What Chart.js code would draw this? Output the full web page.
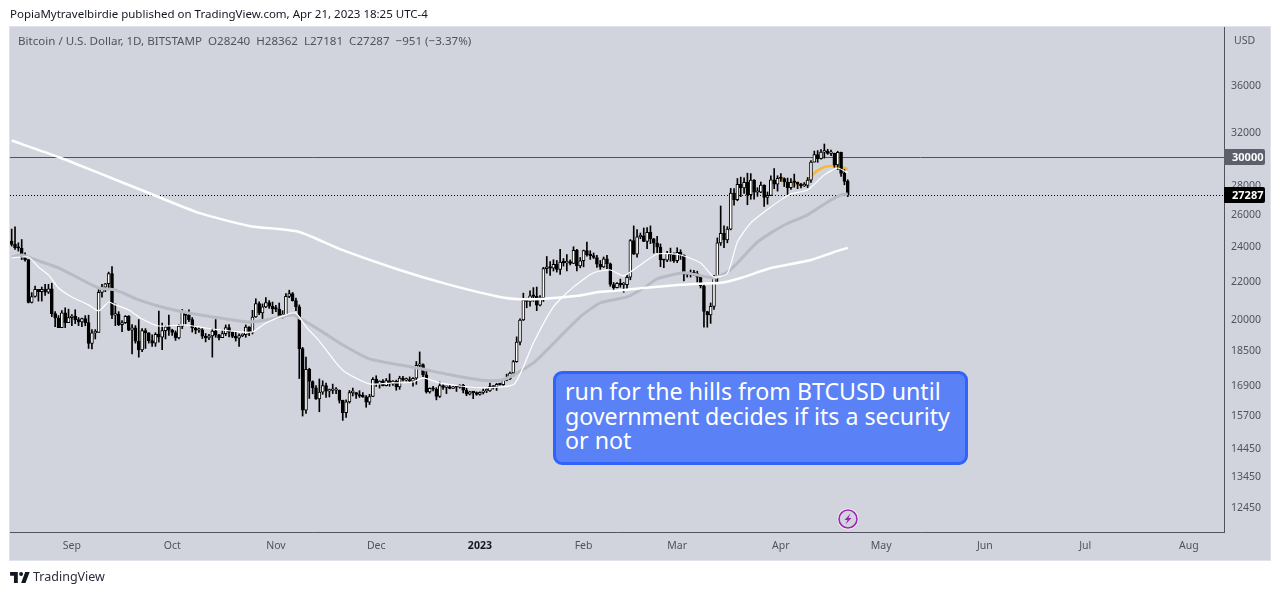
<!DOCTYPE html>
<html><head><meta charset="utf-8">
<script src="https://cdn.jsdelivr.net/npm/chart.js@4"></script>
<style>
html,body{margin:0;padding:0;background:#fff;width:1280px;height:595px;overflow:hidden}
body{position:relative;font-family:"Noto Sans",sans-serif}
#panel{position:absolute;left:9px;top:26px;width:1260px;height:533px;background:#d1d4dc;border:1px solid #e0e3eb;box-sizing:content-box}
canvas{position:absolute;left:0;top:0}
.t{position:absolute;white-space:pre;line-height:1}
#note{position:absolute;left:553px;top:371px;width:415px;height:94px;box-sizing:border-box;background:#5a81f6;border:3px solid #2f63fb;border-radius:9px}
#noteText{position:absolute;left:565px;top:379px;color:#fff;font-size:23.2px;line-height:24.7px;white-space:pre}
svg{position:absolute}
</style></head><body>
<div id="panel"></div>
<canvas id="c" width="1280" height="595"></canvas>
<div class="t" style="left:10px;top:8px;font-size:11.5px;color:#131722">PopiaMytravelbirdie published on TradingView.com, Apr 21, 2023 18:25 UTC-4</div>
<div class="t" style="left:18px;top:35px;font-size:11.58px;color:#50535e">Bitcoin / U.S. Dollar, 1D, BITSTAMP  O28240  H28362  L27181  C27287  −951 (−3.37%)</div>
<div class="t" style="left:1234px;top:35px;font-size:10.5px;color:#50535e">USD</div>
<div id="note"></div>
<div id="noteText">run for the hills from BTCUSD until
government decides if its a security
or not</div>
<svg style="left:837px;top:508px" width="22" height="22" viewBox="0 0 22 22"><circle cx="11" cy="11" r="10.5" fill="#fff"/><circle cx="11" cy="11" r="9" fill="#d1d4dc" stroke="#9c27b0" stroke-width="1.6"/><path d="M13.5 5.5L7.5 12h3l-2 4.5 6-6.5h-3z" fill="#9c27b0"/></svg>
<svg style="left:10px;top:572px" width="20" height="11" viewBox="0 0 36 20"><path d="M14 20H7V7H0V0h14zM28 20h-8l7.5-20h8z" fill="#131722"/><circle cx="20" cy="3.6" r="3.6" fill="#131722"/></svg>
<div class="t" style="left:33px;top:571px;font-size:12.5px;color:#2a2e39">TradingView</div>
<script>
const opens=[24310,24100,23900,23870,23340,23200,20830,21140,21520,21400,21530,21370,21560,20250,20030,19550,20290,19800,
20050,20130,19950,19830,20000,19800,18790,19290,19320,21360,21650,21830,22400,20170,20230,19700,19800,20110,19420,19540,18890,18480,19400,19290,18920,18800,19220,19080,19400,19590,
19420,19310,19050,19620,20340,20160,19950,19530,19420,19440,19130,19050,19150,19380,19180,19060,19260,19550,19330,19120,19040,19160,19200,19570,19330,20080,20770,20290,20600,20820,20630,
20490,20480,20150,20200,21150,21300,20920,20600,18540,15880,17600,17070,16800,16340,16620,16900,16660,16690,16700,16700,16280,15780,16220,16600,16600,16520,16460,16430,16210,16440,
17160,16980,17090,16890,17110,16970,17090,16840,17220,17130,17130,17090,17210,17780,17810,17360,16630,16780,16740,16440,16900,16820,16830,16780,16840,16830,16920,16700,16540,16630,16600,
16530,16610,16670,16670,16850,16830,16950,16940,17120,17190,17440,17950,18850,19930,20950,20880,21180,21150,20680,21080,22680,22780,22710,22930,22630,23060,23010,23080,22970,23750,22830,
23130,23730,23490,23430,23320,22930,22770,23240,22960,21790,21620,21860,21780,21780,22190,24330,23520,24570,24630,24280,24840,24440,24180,23940,23190,23160,23560,23490,
23140,23630,23470,22360,22350,22430,22400,22200,21710,20360,20190,20620,22150,24200,24780,24380,25050,27430,26970,28040,27790,28170,27310,28340,27480,27490,27990,27130,27270,28360,28040,
28470,28450,28200,27800,28180,28170,28040,27930,27950,28330,29650,30220,29900,30400,30480,30300,30320,29440,30390,28820,28240];
const highs=[25050,25200,24200,24400,23600,23200,21350,21700,21500,21650,21800,21800,21860,20350,20150,20400,20550,20480,
20200,20450,20050,20030,20150,20170,19450,19450,21550,21800,21850,22480,22800,20750,20350,19900,20150,20150,19700,19650,19950,19500,19500,19300,19200,19300,20380,19780,19640,20180,
19470,19390,19700,20460,20370,20440,20050,19620,19550,19510,19260,19220,19500,19950,19220,19420,19680,19700,19350,19340,19250,19250,19680,19600,20420,21020,20860,20750,21080,20930,20850,
20680,20800,20400,21300,21480,21360,21060,20700,18600,18150,17650,17100,16900,17180,17100,17000,16750,16960,16810,16710,16290,16300,16690,16790,16600,16680,16600,16480,16530,17240,
17320,17100,17150,17200,17400,17110,17130,17300,17300,17220,17270,17240,17950,18390,17850,17530,16800,16870,16810,17050,16930,16870,16950,16860,16860,16930,16950,16780,16650,16640,16630,
16630,16760,16770,17000,16880,16990,16980,17170,17390,17480,18000,19100,19990,21320,21050,21450,21620,21650,21190,22750,23380,23080,23190,23150,23800,23260,23500,23180,23960,23800,23320,
23760,24250,23720,23590,23450,23150,23350,23450,23000,21900,21900,22090,21900,22330,24400,25250,25020,24800,25120,25150,25250,24470,24590,24130,23200,23680,23880,23600,
23900,23780,23480,22420,22600,22580,22530,22240,21800,20370,20800,22300,24500,26550,25250,25200,27750,27730,28450,28550,28500,28830,28800,28370,27800,28200,28000,27500,28650,29170,28650,
28800,28500,28480,28450,28770,28200,28100,28160,28520,29770,30480,30520,30600,31030,30620,30550,30320,30470,30410,29100,28362];
const lows=[24000,23800,23700,23200,23100,20800,20800,21100,20900,20900,21200,21300,20100,19600,19550,19550,19550,19800,
19650,19750,19650,19600,19640,18550,18530,19000,19320,21100,21400,21600,20000,19650,19650,19350,19750,19400,18300,18800,18150,18400,18550,18800,18650,18650,18850,18500,19000,19170,
19170,18930,19000,19500,19730,19840,19330,19250,19320,19020,18860,18970,18150,19080,18950,19060,19160,19100,19060,18900,18650,19110,19080,19160,19240,20060,20200,20000,20550,20520,20250,
20350,20050,20030,20180,21080,20900,20400,17200,15650,15750,16360,16550,16320,15820,16530,16400,16420,16560,16560,16170,15480,15600,16170,16460,16360,16400,16400,16000,16110,16430,
16860,16790,16880,16880,16870,16900,16700,16740,17100,17090,17070,16870,16950,17660,17280,16580,16580,16670,16300,16400,16730,16560,16760,16780,16650,16790,16590,16470,16500,16350,16490,
16490,16540,16600,16650,16750,16690,16910,16910,17100,17150,17310,17920,18720,19900,20550,20630,20880,20400,20650,20880,22420,22300,22540,22480,22350,22820,22550,22890,22970,22550,22720,
22780,23400,23210,23260,22750,22640,22740,22670,21690,21470,21600,21640,21370,21530,22050,23500,23340,24450,24270,23850,24150,23580,23610,22790,22730,23080,23100,23030,
23020,23210,21980,22200,22200,22300,21920,21600,19570,19570,19760,20470,21900,24040,23900,24200,25000,26600,26900,27180,27400,26630,27000,27010,27200,27450,26520,26670,27250,27730,27560,
28250,27880,27280,27680,27830,27730,27780,27880,27800,28170,29650,29630,29860,29950,30230,30130,29270,29100,28600,28000,27181];
const closes=[24100,23900,23870,23340,23200,20830,21140,21520,21400,21530,21370,21560,20250,20030,19550,20290,19800,20050,
20130,19950,19830,20000,19800,18790,19290,19320,21360,21650,21830,22400,20170,20230,19700,19800,20110,19420,19540,18890,18480,19400,19290,18920,18800,19220,19080,19400,19590,19420,
19310,19050,19620,20340,20160,19950,19530,19420,19440,19130,19050,19150,19380,19180,19060,19260,19550,19330,19120,19040,19160,19200,19570,19330,20080,20770,20290,20600,20820,20630,20490,
20480,20150,20200,21150,21300,20920,20600,18540,15880,17600,17070,16800,16340,16620,16900,16660,16690,16700,16700,16280,15780,16220,16600,16600,16520,16460,16430,16210,16440,17160,
16980,17090,16890,17110,16970,17090,16840,17220,17130,17130,17090,17210,17780,17810,17360,16630,16780,16740,16440,16900,16820,16830,16780,16840,16830,16920,16700,16540,16630,16600,16530,
16610,16670,16670,16850,16830,16950,16940,17120,17190,17440,17950,18850,19930,20950,20880,21180,21150,20680,21080,22680,22780,22710,22930,22630,23060,23010,23080,22970,23750,22830,23130,
23730,23490,23430,23320,22930,22770,23240,22960,21790,21620,21860,21780,21780,22190,24330,23520,24570,24630,24280,24840,24440,24180,23940,23190,23160,23560,23490,23140,
23630,23470,22360,22350,22430,22400,22200,21710,20360,20190,20620,22150,24200,24780,24380,25050,27430,26970,28040,27790,28170,27310,28340,27480,27490,27990,27130,27270,28360,28040,28470,
28450,28200,27800,28180,28170,28040,27930,27950,28330,29650,30220,29900,30400,30480,30300,30320,29440,30390,28820,28240,27287];

const ma200Days=[0,14,26,41,56,71,86,98,116,131,146,152,158,170,176,182,188,200,206,212,218,227,239,246,250];
const ma200Vals=[31300,30030,28850,27430,26090,25250,24870,23830,22600,21770,21120,21000,21010,21200,21390,21470,21590,21770,21830,21880,22150,22710,23180,23650,23890];
const ma100Days=[0,3,9,14,20,26,31,38,46,56,66,71,76,84,86,92,99,107,121,131,140,147,156,163,170,176,184,189,193,201,205,210,214,217,223,231,238,244,248,250];
const ma100Vals=[23350,23470,23060,22720,22150,21600,21500,20960,20540,20190,19930,19830,19930,20190,20030,19440,18720,18070,17670,17360,17140,17140,17890,18950,20090,20800,21120,21600,22100,22440,22320,22150,22490,23000,24250,25310,25960,26820,27300,27370];
const ma20Days=[0,5,8,11,14,18,23,26,29,31,35,39,44,52,58,68,72,76,82,85,88,92,97,100,107,114,120,123,128,134,141,150,153,156,162,168,174,179,183,188,193,200,206,210,214,217,221,225,230,233,238,243,247,250];
const ma20Vals=[23300,23350,22770,22320,21600,21120,20700,20390,20850,20700,20440,19980,19630,19680,19530,19340,19340,19780,20190,20280,19590,18900,17890,17450,16970,17010,17050,17230,17010,16880,16800,16930,17710,18810,20600,21660,22440,22600,22270,22890,23530,23470,23000,22210,22400,24250,25440,26150,26960,27370,27640,28710,29210,28850];
const maOrangeDays=[230,232,237,240,243,247,250];
const maOrangeVals=[28490,28130,28060,28850,29290,29360,29140];

const yTicks=[12450,13450,14450,15700,16900,18500,20000,22000,24000,26000,28000,32000,36000];
const monthStart=[18,48,79,109,140,171,199,230,260,291,321,352];
const monthNames=["Sep","Oct","Nov","Dec","2023","Feb","Mar","Apr","May","Jun","Jul","Aug"];
const levelPrice=30000, lastPrice=27287;
const totalSlots=363;

const categories=[];
for(let i=0;i<totalSlots;i++){const d=new Date(Date.UTC(2022,7,14+i));categories.push(d.toISOString().slice(0,10));}
const pts=(days,vals)=>days.map((d,i)=>({x:categories[d],y:vals[i]}));
const bodies=opens.map((o,i)=>[Math.min(o,closes[i]),Math.max(o,closes[i])]);
const wicks=lows.map((l,i)=>[l,highs[i]]);
const bodyFill=opens.map((o,i)=>closes[i]>=o?"#ffffff":"#000000");

const overlay={id:"overlay",
 beforeDatasetsDraw(ch){const {ctx,chartArea:a,scales:{y}}=ch;ctx.save();
  ctx.strokeStyle="#50535e";ctx.lineWidth=1;ctx.beginPath();const yl=Math.round(y.getPixelForValue(levelPrice))+.5;ctx.moveTo(a.left,yl);ctx.lineTo(a.right,yl);ctx.stroke();
  ctx.strokeStyle="#000";ctx.setLineDash([1,2]);ctx.beginPath();const yp=Math.round(y.getPixelForValue(lastPrice))+.5;ctx.moveTo(a.left,yp);ctx.lineTo(a.right,yp);ctx.stroke();ctx.restore();},
 afterDraw(ch){const {ctx,chartArea:a,scales:{y}}=ch;ctx.save();
  const tag=(v,bg)=>{const py=Math.round(y.getPixelForValue(v));ctx.fillStyle=bg;ctx.beginPath();ctx.roundRect(a.right,py-8,41,16,[0,2,2,0]);ctx.fill();
   ctx.fillStyle="#fff";ctx.font='bold 11px "Noto Sans"';ctx.textAlign="left";ctx.textBaseline="middle";ctx.fillText(String(v),a.right+8,py+.5);};
  tag(levelPrice,"#5d606b");tag(lastPrice,"#000000");ctx.restore();}};

new Chart(document.getElementById("c"),{
 type:"bar",
 plugins:[overlay],
 data:{labels:categories,datasets:[
  {type:"line",label:"MA orange",data:pts(maOrangeDays,maOrangeVals),borderColor:"#f5b83a",borderWidth:2.5,pointRadius:0,tension:0.2,order:5},
  {label:"wicks",data:wicks,backgroundColor:"#000",barThickness:1,grouped:false,order:4},
  {label:"bodies",data:bodies,backgroundColor:bodyFill,borderColor:"#000",borderWidth:1,borderSkipped:false,barThickness:3,minBarLength:1.5,grouped:false,order:3},
  {type:"line",label:"MA 100",data:pts(ma100Days,ma100Vals),borderColor:"#b8bbc4",borderWidth:3,pointRadius:0,tension:0.2,order:2},
  {type:"line",label:"MA 20",data:pts(ma20Days,ma20Vals),borderColor:"#ffffff",borderWidth:1.2,pointRadius:0,tension:0.2,order:1},
  {type:"line",label:"MA 200",data:pts(ma200Days,ma200Vals),borderColor:"#ffffff",borderWidth:2.5,pointRadius:0,tension:0.2,order:0}
 ]},
 options:{responsive:false,animation:false,devicePixelRatio:1,
  layout:{padding:{left:10,top:27,right:10,bottom:35}},
  plugins:{legend:{display:false},tooltip:{enabled:false}},
  scales:{
   x:{type:"category",offset:true,grid:{display:false,drawTicks:false},border:{display:true,color:"#50535e",width:1},
    afterFit(s){s.height=28;},
    afterBuildTicks(s){s.ticks=monthStart.map(v=>({value:v}));},
    ticks:{autoSkip:false,maxRotation:0,minRotation:0,padding:8,color:(c)=>c.tick&&monthNames[monthStart.indexOf(c.tick.value)]==="2023"?"#131722":"#50535e",
     font:(c)=>({family:"Noto Sans",size:10.5,weight:c.tick&&monthNames[monthStart.indexOf(c.tick.value)]==="2023"?"bold":"normal"}),
     callback:(v)=>monthNames[monthStart.indexOf(v)]}},
   y:{type:"logarithmic",position:"right",min:11690,max:41650,grid:{display:false,drawTicks:false},border:{display:true,color:"#50535e",width:1},
    afterFit(s){s.width=46;},
    afterBuildTicks(s){s.ticks=yTicks.map(v=>({value:v}));},
    ticks:{autoSkip:false,padding:7,labelOffset:1,color:"#50535e",font:{family:"Noto Sans",size:10.5},callback:(v)=>String(v)}}
  }}
});
</script></body></html>
